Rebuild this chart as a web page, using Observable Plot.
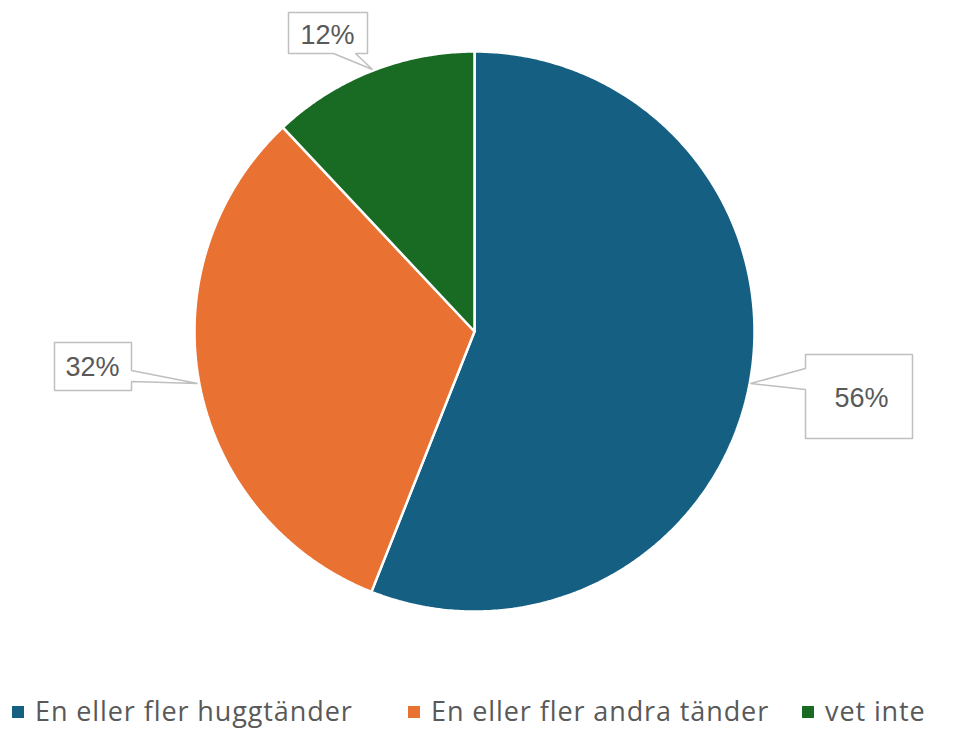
<!DOCTYPE html>
<html>
<head>
<meta charset="utf-8">
<script src="https://cdn.jsdelivr.net/npm/d3@7"></script>
<script src="https://cdn.jsdelivr.net/npm/@observablehq/plot@0.6"></script>
<style>
  html, body { margin: 0; padding: 0; background: #fff; }
  #chart { width: 955px; }
  .legend { position: relative; height: 41px; font-family: "Open Sans", sans-serif; font-size: 27px; letter-spacing: 0.9px; color: #595959; }
  .legend .item { position: absolute; top: 0; height: 41px; display: flex; align-items: center; white-space: nowrap; }
  .legend .sw { width: 12px; height: 12px; margin-right: 11px; margin-top: 2px; }
</style>
</head>
<body>
<div id="chart"></div>
<script>
const categories = ["En eller fler huggtänder", "En eller fler andra tänder", "vet inte"];
const values = [56, 32, 12];
const colors = ["#156082", "#E97132", "#196B24"];
const labels = ["56%", "32%", "12%"];

// layout (pixels): pie centre, radius, callout boxes, legend item positions
const W = 955, H = 690, CX = 474, CY = 331, R = 280;
const legendLeft = [12, 408, 802];
const callouts = [
  {box: [805, 354, 912, 438], side: "left", base: [368, 389], tip: [750, 383], text: [861, 398]},
  {box: [54, 342, 131, 390], side: "right", base: [370, 381], tip: [197, 383], text: [92, 367]},
  {box: [288, 12, 367, 53], side: "bottom", base: [333, 355], tip: [372, 69], text: [327, 35]}
];

const toX = px => (px - CX) / R;
const toY = py => (CY - py) / R;

const pie = d3.pie().sort(null).value(d => d.value).startAngle(0).endAngle(2 * Math.PI);
const table = categories.map((c, i) => ({cat: c, value: values[i], label: labels[i]}));
const arcs = pie(table);

const slicePts = [];
arcs.forEach(a => {
  slicePts.push({cat: a.data.cat, x: 0, y: 0});
  const n = Math.max(2, Math.ceil((a.endAngle - a.startAngle) / (Math.PI / 360)));
  for (let k = 0; k <= n; k++) {
    const t = a.startAngle + (a.endAngle - a.startAngle) * k / n;
    slicePts.push({cat: a.data.cat, x: Math.sin(t), y: Math.cos(t)});
  }
  slicePts.push({cat: a.data.cat, x: 0, y: 0});
});

const calloutPts = [];
const textPts = [];
callouts.forEach((c, i) => {
  const [x0, y0, x1, y1] = c.box;
  let pts;
  if (c.side === "left") pts = [[x0,y0],[x1,y0],[x1,y1],[x0,y1],[x0,c.base[1]],c.tip,[x0,c.base[0]],[x0,y0]];
  else if (c.side === "right") pts = [[x0,y0],[x1,y0],[x1,c.base[0]],c.tip,[x1,c.base[1]],[x1,y1],[x0,y1],[x0,y0]];
  else pts = [[x0,y0],[x1,y0],[x1,y1],[c.base[1],y1],c.tip,[c.base[0],y1],[x0,y1],[x0,y0]];
  pts.forEach(p => calloutPts.push({id: i, x: toX(p[0]), y: toY(p[1])}));
  textPts.push({label: arcs[i].data.label, x: toX(c.text[0]), y: toY(c.text[1])});
});

const plot = Plot.plot({
  width: W, height: H,
  margin: 0,
  x: {domain: [toX(0), toX(W)], axis: null},
  y: {domain: [toY(H), toY(0)], axis: null},
  color: {domain: categories, range: colors},
  marks: [
    Plot.line(slicePts, {x: "x", y: "y", z: "cat", fill: "cat", stroke: "white", strokeWidth: 2.5, strokeLinejoin: "miter", curve: "linear"}),
    Plot.line(calloutPts, {x: "x", y: "y", z: "id", fill: "white", stroke: "#bfbfbf", strokeWidth: 1.5, strokeLinejoin: "miter"}),
    Plot.text(textPts, {x: "x", y: "y", text: "label", fill: "#595959", fontSize: 27, fontFamily: "Liberation Sans, Arial, sans-serif"})
  ]
});
document.getElementById("chart").appendChild(plot);

const legend = document.createElement("div");
legend.className = "legend";
categories.forEach((c, i) => {
  const item = document.createElement("div");
  item.className = "item";
  item.style.left = legendLeft[i] + "px";
  const sw = document.createElement("span");
  sw.className = "sw";
  sw.style.background = colors[i];
  const tx = document.createElement("span");
  tx.textContent = c;
  item.appendChild(sw);
  item.appendChild(tx);
  legend.appendChild(item);
});
document.getElementById("chart").appendChild(legend);
</script>
</body>
</html>
